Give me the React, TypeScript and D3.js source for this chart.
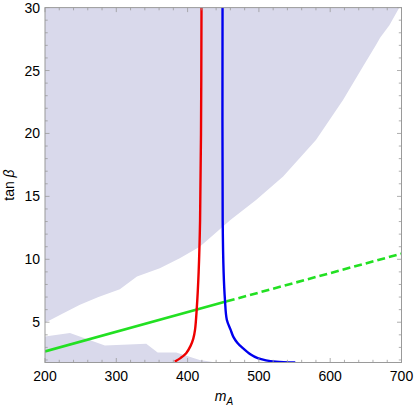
import React from "react";
import * as d3 from "d3";

// Axis domains / ticks
const xDomain: [number, number] = [200, 700];
const yDomain: [number, number] = [1.8, 30];
const xMajorTicks = [200, 300, 400, 500, 600, 700];
const yMajorTicks = [5, 10, 15, 20, 25, 30];

// Upper excluded region: lower boundary (mA, tanβ)
const upperBoundaryMA = [200, 225, 249, 275, 305, 329, 361, 389, 417, 436, 460, 496, 534, 580, 618, 646, 664, 670, 683, 697];
const upperBoundaryTB = [4.95, 5.7, 6.38, 7.0, 7.63, 8.63, 9.29, 10.09, 11.0, 11.94, 13.13, 14.72, 16.57, 19.48, 22.66, 25.31, 27.0, 27.6, 28.6, 30];

// Lower excluded region: upper boundary (mA, tanβ)
const lowerBoundaryMA = [200, 235, 284, 342, 358, 384, 417, 440];
const lowerBoundaryTB = [3.86, 4.15, 3.15, 3.29, 2.59, 2.59, 2.0, 1.8];

// Red curve
const redMA = [382, 390, 398, 404, 408, 410.4, 412.8, 415.5, 417.5, 418.8, 419.5];
const redTB = [1.87, 2.15, 2.54, 3.1, 3.7, 4.39, 6.04, 9.0, 13.1, 20, 30];

// Blue curve
const blueMA = [449, 449.2, 450.5, 452.4, 455, 460.4, 464, 470, 477.4, 488, 498.3, 510, 524, 551];
const blueTB = [30, 13.1, 9.0, 6.77, 5.2, 4.39, 3.86, 3.35, 2.94, 2.45, 2.14, 1.97, 1.87, 1.8];

// Green line: solid then dashed
const greenSolidMA = [200, 455];
const greenSolidTB = [2.68, 6.66];
const greenDashMA = [455, 700];
const greenDashTB = [6.66, 10.45];

const W = 415;
const H = 408;
const L = 45, R = 401.5, T = 7.6, B = 362.5;

export default function App() {
  const x = d3.scaleLinear().domain(xDomain).range([L, R]);
  const y = d3.scaleLinear().domain(yDomain).range([B, T]);
  const line = d3.line<[number, number]>().x(d => x(d[0])).y(d => y(d[1]));
  const curve = d3.line<[number, number]>().x(d => x(d[0])).y(d => y(d[1])).curve(d3.curveCatmullRom.alpha(0.5));

  const zip = (a: number[], b: number[]) => a.map((v, i) => [v, b[i]] as [number, number]);

  const upperPoly: [number, number][] = [[200, 30], ...zip(upperBoundaryMA, upperBoundaryTB), [700, 30]];
  const lowerPoly: [number, number][] = [...zip(lowerBoundaryMA, lowerBoundaryTB), [200, 1.8]];

  const xMinor = d3.range(200, 701, 20);
  const yMinor = d3.range(2, 31, 1);
  const frame = "#9a9a9a";
  const font = "Liberation Sans, Arial, sans-serif";

  return (
    <svg width={W} height={H} style={{ position: "absolute", left: 0, top: 0, background: "#fff" }}>
      <defs>
        <clipPath id="plot">
          <rect x={L} y={T} width={R - L} height={B - T} />
        </clipPath>
      </defs>
      <g clipPath="url(#plot)">
        <path d={line(upperPoly) || ""} fill="#d9d9eb" />
        <path d={line(lowerPoly) || ""} fill="#d9d9eb" />
        <path d={line(zip(greenSolidMA, greenSolidTB)) || ""} fill="none" stroke="#22e022" strokeWidth={2.6} />
        <path d={line(zip(greenDashMA, greenDashTB)) || ""} fill="none" stroke="#22e022" strokeWidth={2.6} strokeDasharray="8,4" />
        <path d={curve(zip(redMA, redTB)) || ""} fill="none" stroke="#ee0000" strokeWidth={2.4} />
        <path d={curve(zip(blueMA, blueTB)) || ""} fill="none" stroke="#0000ee" strokeWidth={2.4} />
      </g>
      {/* frame */}
      <rect x={L} y={T} width={R - L} height={B - T} fill="none" stroke={frame} strokeWidth={1} />
      {/* x ticks */}
      {xMinor.map(v => {
        const major = v % 100 === 0;
        const len = major ? 4.5 : 2.7;
        return (
          <g key={"xt" + v} stroke={frame} strokeWidth={0.8}>
            <line x1={x(v)} x2={x(v)} y1={B} y2={B - len} />
            <line x1={x(v)} x2={x(v)} y1={T} y2={T + len} />
          </g>
        );
      })}
      {yMinor.map(v => {
        const major = v % 5 === 0;
        const len = major ? 4.5 : 2.7;
        return (
          <g key={"yt" + v} stroke={frame} strokeWidth={0.8}>
            <line x1={L} x2={L + len} y1={y(v)} y2={y(v)} />
            <line x1={R} x2={R - len} y1={y(v)} y2={y(v)} />
          </g>
        );
      })}
      {xMajorTicks.map(v => (
        <text key={"xl" + v} x={x(v)} y={380.5} textAnchor="middle" fontFamily={font} fontSize={14} fill="#000">
          {v}
        </text>
      ))}
      {yMajorTicks.map(v => (
        <text key={"yl" + v} x={40} y={y(v) + 5} textAnchor="end" fontFamily={font} fontSize={14} fill="#000">
          {v}
        </text>
      ))}
      <text transform={`translate(14,${(T + B) / 2}) rotate(-90)`} textAnchor="middle" fontFamily={font} fontSize={14} fill="#000">
        tan <tspan fontStyle="italic">β</tspan>
      </text>
      <text x={224} y={401} textAnchor="middle" fontFamily={font} fontSize={14} fill="#000">
        <tspan fontStyle="italic">m</tspan>
        <tspan fontSize={10} dy={4} fontStyle="italic">A</tspan>
      </text>
    </svg>
  );
}
